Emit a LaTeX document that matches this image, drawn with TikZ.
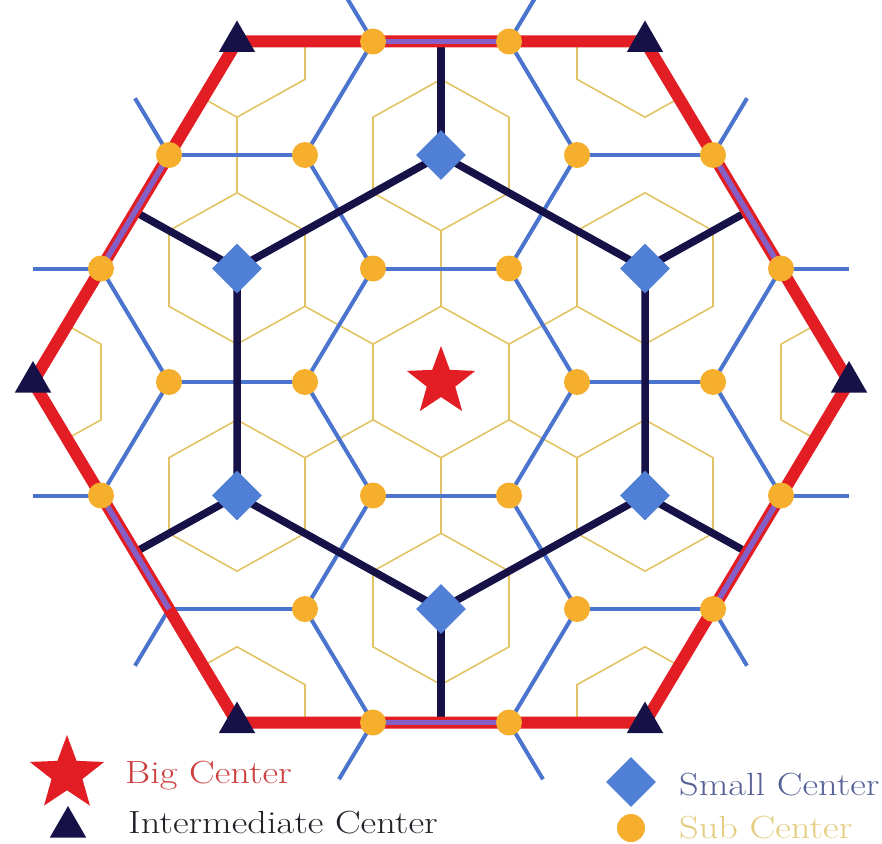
\documentclass[tikz,border=0pt]{standalone}
\usepackage{fontspec}
\newfontfamily\legfont[FakeStretch=1.2]{Latin Modern Roman}
\usetikzlibrary{shapes.geometric,calc}
\definecolor{redc}{RGB}{226,30,36}
\definecolor{navyc}{RGB}{22,18,72}
\definecolor{bluec}{RGB}{74,116,206}
\definecolor{diamc}{RGB}{80,128,214}
\definecolor{orc}{RGB}{246,174,45}
\definecolor{yelc}{RGB}{226,196,100}
\definecolor{purc}{RGB}{132,96,198}
\definecolor{bigtxt}{RGB}{205,62,62}
\definecolor{inttxt}{RGB}{35,32,40}
\definecolor{smtxt}{RGB}{88,98,152}
\definecolor{subtxt}{RGB}{228,204,128}
\begin{document}
\begin{tikzpicture}[
  yel/.style={draw=yelc, line width=1.6pt},
  blu/.style={draw=bluec, line width=4pt},
  nav/.style={draw=navyc, line width=7.5pt},
  redline/.style={draw=redc, line width=12pt, line join=miter},
  purline/.style={draw=purc, line width=5.5pt},
  subdot/.style={circle, fill=orc, inner sep=0pt, minimum size=26pt},
  smalldia/.style={diamond, fill=diamc, inner sep=0pt, minimum width=50pt, minimum height=50pt},
  midtri/.style={regular polygon, regular polygon sides=3, fill=navyc, inner sep=0pt, minimum size=42pt},
  bigstar/.style={star, star points=5, star point ratio=2.4, fill=redc, inner sep=0pt, minimum size=72pt},
  legtxt/.style={anchor=base west, inner sep=0pt, font=\legfont\fontsize{32}{38}\selectfont}
]
\fill[white] (0,0) rectangle (882pt,-843pt);
\useasboundingbox (0,0) rectangle (882pt,-843pt);
\clip (0,0) rectangle (882pt,-843pt);
\begin{scope}[shift={(441pt,-382pt)}, x={(136pt,0pt)}, y={(68pt,113.5pt)}]
\foreach \i in {-4,...,4}{\foreach \j in {-4,...,4}{\coordinate (p\i x\j) at (\i,\j);}}
% yellow market cells
\foreach \c in {0x0,1x1,-1x2,-2x1,-1x-1,1x-2,2x-1}
  \draw[yel] (p\c) +(1/3,1/3) -- +(-1/3,2/3) -- +(-2/3,1/3) -- +(-1/3,-1/3) -- +(1/3,-2/3) -- +(2/3,-1/3) -- cycle;
\begin{scope}
\clip (p3x0) -- (p0x3) -- (p-3x3) -- (p-3x0) -- (p0x-3) -- (p3x-3) -- cycle;
\foreach \c in {3x0,0x3,-3x3,-3x0,0x-3,3x-3}
  \draw[yel] (p\c) +(1/3,1/3) -- +(-1/3,2/3) -- +(-2/3,1/3) -- +(-1/3,-1/3) -- +(1/3,-2/3) -- +(2/3,-1/3) -- cycle;
\end{scope}
\draw[yel] (p0x0) +(1/3,1/3) -- +(2/3,2/3);
\draw[yel] (p0x0) +(-1/3,2/3) -- +(-2/3,4/3);
\draw[yel] (p0x0) +(-2/3,1/3) -- +(-4/3,2/3);
\draw[yel] (p0x0) +(-1/3,-1/3) -- +(-2/3,-2/3);
\draw[yel] (p0x0) +(1/3,-2/3) -- +(2/3,-4/3);
\draw[yel] (p0x0) +(2/3,-1/3) -- +(4/3,-2/3);
\draw[yel] (p-3x3) +(1/3,-2/3) -- +(2/3,-4/3);
% blue network
\foreach \a/\b in {1x0/2x0, 1x0/0x1, 1x0/1x-1, 0x-1/1x-1, 0x-1/-1x0, 0x-1/0x-2, -1x1/0x1, -1x1/-2x2, -1x1/-1x0, 0x2/1x2, 0x2/-1x3, 0x2/0x1, -2x0/-1x0, -2x0/-3x1, -2x0/-2x-1, 2x-2/3x-2, 2x-2/1x-1, 2x-2/2x-3, 2x1/2x0, -1x-2/0x-2, 3x-1/2x0, 1x-3/0x-2, -2x3/-2x2, -3x2/-2x2}
  \draw[blu] (p\a) -- (p\b);
\foreach \a/\b in {2x1/3x1, -1x-2/-1x-3, 3x-1/4x-1, 1x-3/1x-4, -2x3/-3x4, -3x2/-4x3, 1x2/1x3, -1x3/-1x4, -3x1/-4x1, -2x-1/-3x-1, 2x-3/3x-4, 3x-2/4x-3}
  \draw[blu] (p\a) -- ($(p\a)!0.5!(p\b)$);
% navy network
\draw[nav] (p1x1) -- (p-1x2) -- (p-2x1) -- (p-1x-1) -- (p1x-2) -- (p2x-1) -- cycle;
\foreach \a/\b in {1x1/2x2, -1x2/-2x4, -2x1/-4x2, -1x-1/-2x-2, 1x-2/2x-4, 2x-1/4x-2}
  \draw[nav] (p\a) -- ($(p\a)!0.5!(p\b)$);
% red boundary
\draw[redline] (p3x0) -- (p0x3) -- (p-3x3) -- (p-3x0) -- (p0x-3) -- (p3x-3) -- cycle;
\foreach \a/\b in {2x1/1x2, -1x-2/-2x-1, 3x-1/3x-2, 1x-3/2x-3, -2x3/-1x3, -3x2/-3x1}
  \draw[purline] (p\a) -- (p\b);
% centres
\foreach \c in {1x0,0x1,-1x1,-1x0,0x-1,1x-1,2x0,0x2,-2x2,-2x0,0x-2,2x-2,2x1,1x2,-1x3,-2x3,-3x2,-3x1,-2x-1,1x-3,2x-3,3x-2,3x-1}
  \node[subdot] (dot\c) at (p\c) {};
\foreach \c in {1x1,-1x2,-2x1,-1x-1,1x-2,2x-1}
  \node[smalldia] (dia\c) at (p\c) {};
\foreach \c in {3x0,0x3,-3x3,-3x0,0x-3,3x-3}
  \node[midtri] (tri\c) at (p\c) {};
\node[bigstar] (bigc) at (p0x0) {};
\end{scope}
% legend
\node[bigstar, minimum size=78pt] (lgstar) at (67pt,-774pt) {};
\node[legtxt, text=bigtxt] (lgbig) at (125pt,-783pt) {Big Center};
\node[midtri] (lgtri) at (68pt,-827pt) {};
\node[legtxt, text=inttxt] (lgint) at (128pt,-833pt) {Intermediate Center};
\node[smalldia] (lgdia) at (631pt,-782pt) {};
\node[legtxt, text=smtxt] (lgsmall) at (679pt,-795pt) {Small Center};
\node[subdot, minimum size=28pt] (lgsub) at (631pt,-828pt) {};
\node[legtxt, text=subtxt] (lgsubt) at (679pt,-838pt) {Sub Center};
\end{tikzpicture}
\end{document}
